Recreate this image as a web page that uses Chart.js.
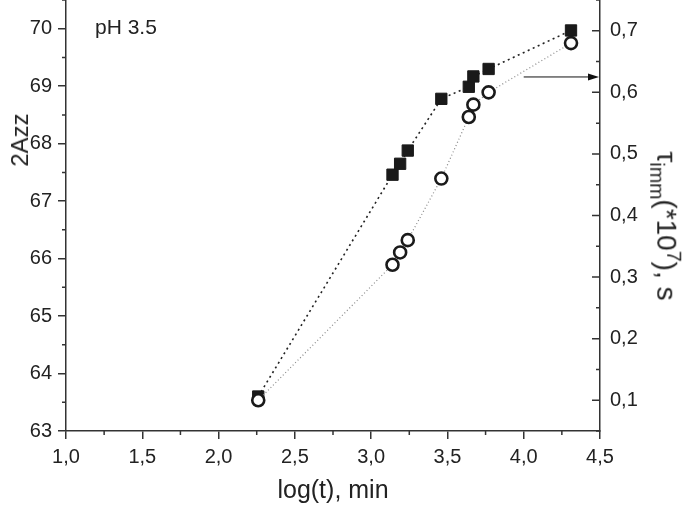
<!DOCTYPE html>
<html>
<head>
<meta charset="utf-8">
<script src="https://cdn.jsdelivr.net/npm/chart.js@4.4.1/dist/chart.umd.min.js"></script>
<style>
  html, body { margin: 0; padding: 0; background: #fff; }
  #wrap { position: relative; width: 685px; height: 506px; font-family: "Liberation Sans", Arial, sans-serif; color: #222; }
  #chart { position: absolute; left: 0; top: 0; }
  .lbl { position: absolute; white-space: nowrap; line-height: 1; }
  #ph { left: 95px; top: 16px; font-size: 21px; }
  #yTitle { left: 20px; top: 140px; font-size: 24px; transform: translate(-50%, -50%) rotate(-90deg); }
  #y2Title { left: 665px; top: 226px; font-size: 28px; transform: translate(-50%, -50%) rotate(90deg); }
  #y2Title sub, #y2Title sup { font-size: 0.7em; }
</style>
</head>
<body>
<div id="wrap">
  <canvas id="chart" width="685" height="506"></canvas>
  <div class="lbl" id="ph">pH 3.5</div>
  <div class="lbl" id="yTitle">2Azz</div>
  <div class="lbl" id="y2Title">τ<sub>imm</sub>(*10<sup>7</sup>), s</div>
</div>
<script>
// ===== Data =====
const logTime = [2.26, 3.14, 3.19, 3.24, 3.46, 3.64, 3.67, 3.77, 4.31];
const azz     = [63.6, 67.46, 67.65, 67.88, 68.78, 68.99, 69.17, 69.30, 69.97];
const tauImm  = [0.10, 0.32, 0.34, 0.36, 0.46, 0.56, 0.58, 0.60, 0.68];

const xTicks = [1.0, 1.5, 2.0, 2.5, 3.0, 3.5, 4.0, 4.5];
const leftTicks = [63, 64, 65, 66, 67, 68, 69, 70];
const rightTicks = [0.1, 0.2, 0.3, 0.4, 0.5, 0.6, 0.7];

// arrow pointing from circle curve to right axis
const arrowFrom = [4.0, 0.625];
const arrowTo = [4.5, 0.625];

const halfSteps = (arr, step) => arr.map(v => v + step / 2);
const xMinor = halfSteps(xTicks.slice(0, -1), 0.5);
const yMinor = halfSteps(leftTicks, 1);
const y2Minor = [0.05].concat(halfSteps(rightTicks, 0.1));

const comma = (v, d) => v.toFixed(d).replace('.', ',');
const axisColor = '#333';
const tickFont = { family: '"Liberation Sans", Arial, sans-serif', size: 20 };

// ===== Minor ticks, inward right ticks, arrow =====
const extras = {
  id: 'extras',
  afterDraw(chart) {
    const { ctx, chartArea: a, scales: { x, y, y2 } } = chart;
    ctx.save();
    ctx.strokeStyle = axisColor;
    ctx.lineWidth = 1.5;
    ctx.beginPath();
    xMinor.forEach(v => { const p = x.getPixelForValue(v); ctx.moveTo(p, a.bottom); ctx.lineTo(p, a.bottom + 4); });
    yMinor.forEach(v => { const p = y.getPixelForValue(v); ctx.moveTo(a.left, p); ctx.lineTo(a.left - 4, p); });
    rightTicks.forEach(v => { const p = y2.getPixelForValue(v); ctx.moveTo(a.right, p); ctx.lineTo(a.right - 8, p); });
    y2Minor.forEach(v => { const p = y2.getPixelForValue(v); ctx.moveTo(a.right, p); ctx.lineTo(a.right - 4, p); });
    ctx.stroke();

    const x0 = x.getPixelForValue(arrowFrom[0]), y0 = y2.getPixelForValue(arrowFrom[1]);
    const x1 = x.getPixelForValue(arrowTo[0]) - 1, y1 = y2.getPixelForValue(arrowTo[1]);
    ctx.strokeStyle = '#111';
    ctx.fillStyle = '#111';
    ctx.lineWidth = 1;
    ctx.beginPath();
    ctx.moveTo(x0, y0); ctx.lineTo(x1 - 8, y1);
    ctx.stroke();
    ctx.beginPath();
    ctx.moveTo(x1, y1); ctx.lineTo(x1 - 11, y1 - 3.5); ctx.lineTo(x1 - 11, y1 + 3.5);
    ctx.closePath();
    ctx.fill();
    ctx.restore();
  }
};

const ctx = document.getElementById('chart').getContext('2d');
new Chart(ctx, {
  type: 'line',
  data: {
    datasets: [
      {
        label: 'tau',
        data: logTime.map((t, i) => ({ x: t, y: tauImm[i] })),
        yAxisID: 'y2',
        borderColor: '#888',
        borderWidth: 1.2,
        borderDash: [1, 2.5],
        pointStyle: 'circle',
        pointRadius: 6,
        pointBorderWidth: 2.6,
        pointBorderColor: '#1a1a1a',
        pointBackgroundColor: '#fff',
        tension: 0
      },
      {
        label: '2Azz',
        data: logTime.map((t, i) => ({ x: t, y: azz[i] })),
        yAxisID: 'y',
        borderColor: '#222',
        borderWidth: 1.6,
        borderDash: [2, 3.5],
        pointStyle: 'rect',
        pointRadius: 8,
        pointBorderWidth: 1,
        pointBorderColor: '#1a1a1a',
        pointBackgroundColor: '#1a1a1a',
        tension: 0
      }
    ]
  },
  options: {
    responsive: false,
    animation: false,
    events: [],
    layout: { padding: 0, autoPadding: false },
    plugins: { legend: { display: false }, tooltip: { enabled: false } },
    scales: {
      x: {
        type: 'linear',
        min: 1.0,
        max: 4.5,
        afterBuildTicks: s => { s.ticks = xTicks.map(v => ({ value: v })); },
        afterFit: s => { s.height = 75; },
        ticks: { color: '#222', font: tickFont, padding: 6, maxRotation: 0, callback: v => comma(v, 1) },
        grid: { drawOnChartArea: false, color: axisColor, lineWidth: 1.5, tickLength: 8 },
        border: { color: axisColor, width: 1.5 },
        title: {
          display: true,
          text: 'log(t), min',
          color: '#222',
          font: { family: '"Liberation Sans", Arial, sans-serif', size: 25 },
          padding: { top: 0, bottom: 0 }
        }
      },
      y: {
        position: 'left',
        min: 63,
        max: 70.5,
        afterBuildTicks: s => { s.ticks = leftTicks.map(v => ({ value: v })); },
        afterFit: s => { s.width = 66; s.paddingTop = 0; s.paddingBottom = 0; },
        ticks: { color: '#222', font: tickFont, padding: 6, callback: v => String(v) },
        grid: { drawOnChartArea: false, color: axisColor, lineWidth: 1.5, tickLength: 8 },
        border: { color: axisColor, width: 1.5 }
      },
      y2: {
        position: 'right',
        min: 0.05,
        max: 0.75,
        afterBuildTicks: s => { s.ticks = rightTicks.map(v => ({ value: v })); },
        afterFit: s => { s.width = 85; s.paddingTop = 0; s.paddingBottom = 0; },
        ticks: { color: '#222', font: tickFont, padding: 10, callback: v => comma(v, 1) },
        grid: { drawOnChartArea: false, drawTicks: false, color: axisColor },
        border: { color: axisColor, width: 1.5 }
      }
    }
  },
  plugins: [extras]
});
</script>
</body>
</html>
